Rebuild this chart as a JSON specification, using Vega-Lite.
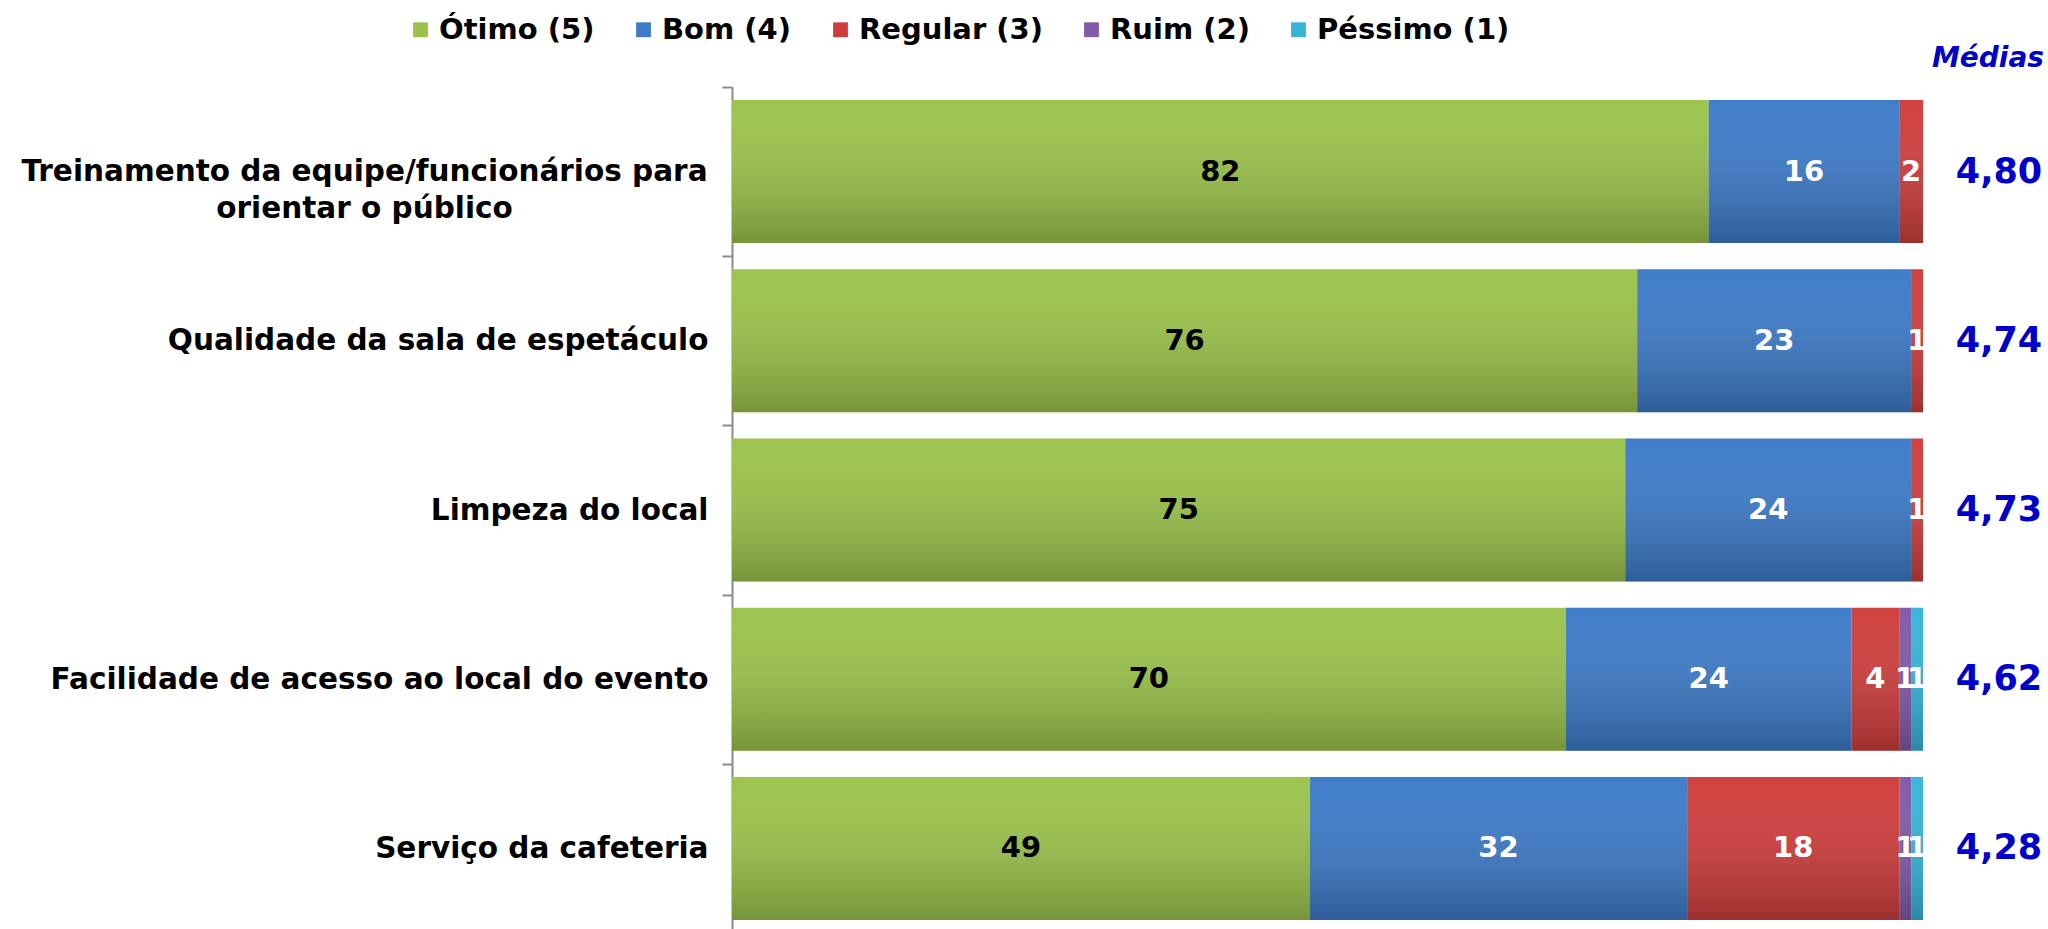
{
  "$schema": "https://vega.github.io/schema/vega-lite/v6.json",
  "autosize": {"type": "none"},
  "padding": {"left": 732, "top": 87, "right": 125, "bottom": 0},
  "width": 1191,
  "height": 846,
  "background": "white",
  "title": {
    "text": "Médias",
    "anchor": "end",
    "frame": "group",
    "dx": 121,
    "dy": 76,
    "offset": 18,
    "font": "DejaVu Sans",
    "fontSize": 28,
    "fontWeight": "bold",
    "fontStyle": "italic",
    "color": "#0000CC"
  },
  "datasets": {
    "resp": [
      {"cat": "Treinamento da equipe/funcionários para|orientar o público", "resp": "Ótimo (5)", "ord": 1, "v": 82},
      {"cat": "Treinamento da equipe/funcionários para|orientar o público", "resp": "Bom (4)", "ord": 2, "v": 16},
      {"cat": "Treinamento da equipe/funcionários para|orientar o público", "resp": "Regular (3)", "ord": 3, "v": 2},
      {"cat": "Qualidade da sala de espetáculo", "resp": "Ótimo (5)", "ord": 1, "v": 76},
      {"cat": "Qualidade da sala de espetáculo", "resp": "Bom (4)", "ord": 2, "v": 23},
      {"cat": "Qualidade da sala de espetáculo", "resp": "Regular (3)", "ord": 3, "v": 1},
      {"cat": "Limpeza do local", "resp": "Ótimo (5)", "ord": 1, "v": 75},
      {"cat": "Limpeza do local", "resp": "Bom (4)", "ord": 2, "v": 24},
      {"cat": "Limpeza do local", "resp": "Regular (3)", "ord": 3, "v": 1},
      {"cat": "Facilidade de acesso ao local do evento", "resp": "Ótimo (5)", "ord": 1, "v": 70},
      {"cat": "Facilidade de acesso ao local do evento", "resp": "Bom (4)", "ord": 2, "v": 24},
      {"cat": "Facilidade de acesso ao local do evento", "resp": "Regular (3)", "ord": 3, "v": 4},
      {"cat": "Facilidade de acesso ao local do evento", "resp": "Ruim (2)", "ord": 4, "v": 1},
      {"cat": "Facilidade de acesso ao local do evento", "resp": "Péssimo (1)", "ord": 5, "v": 1},
      {"cat": "Serviço da cafeteria", "resp": "Ótimo (5)", "ord": 1, "v": 49},
      {"cat": "Serviço da cafeteria", "resp": "Bom (4)", "ord": 2, "v": 32},
      {"cat": "Serviço da cafeteria", "resp": "Regular (3)", "ord": 3, "v": 18},
      {"cat": "Serviço da cafeteria", "resp": "Ruim (2)", "ord": 4, "v": 1},
      {"cat": "Serviço da cafeteria", "resp": "Péssimo (1)", "ord": 5, "v": 1}
    ],
    "medias": [
      {"cat": "Treinamento da equipe/funcionários para|orientar o público", "media": "4,80"},
      {"cat": "Qualidade da sala de espetáculo", "media": "4,74"},
      {"cat": "Limpeza do local", "media": "4,73"},
      {"cat": "Facilidade de acesso ao local do evento", "media": "4,62"},
      {"cat": "Serviço da cafeteria", "media": "4,28"}
    ]
  },
  "config": {
    "view": {"stroke": null},
    "font": "DejaVu Sans"
  },
  "layer": [
    {
      "data": {"name": "resp"},
      "transform": [
        {"stack": "v", "groupby": ["cat"], "sort": [{"field": "ord"}], "as": ["x0", "x1"], "offset": "normalize"},
        {"calculate": "(datum.x0 + datum.x1) / 2", "as": "xm"}
      ],
      "layer": [
        {
          "mark": {"type": "bar", "height": {"band": 0.845}},
          "encoding": {
            "x": {"field": "x0", "type": "quantitative", "scale": {"domain": [0, 1], "nice": false, "zero": true}, "axis": null},
            "x2": {"field": "x1"},
            "y": {
              "field": "cat", "type": "nominal", "sort": null, "title": null,
              "scale": {"paddingInner": 0, "paddingOuter": 0},
              "axis": {
                "labelExpr": "isString(datum.value) ? split(datum.value, '|') : ''",
                "labelFont": "DejaVu Sans",
                "labelFontSize": 29.5,
                "labelFontWeight": "bold",
                "labelColor": "#000000",
                "labelLineHeight": 37,
                "labelAlign": {"condition": {"test": "isString(datum.value) && indexof(datum.value, '|') >= 0", "value": "center"}, "value": "right"},
                "labelPadding": {"condition": {"test": "isString(datum.value) && indexof(datum.value, '|') >= 0", "value": 358}, "value": 14},
                "labelLimit": 800,
                "tickBand": "extent",
                "tickSize": 10,
                "tickColor": "#8a8a8a",
                "tickWidth": 2,
                "domainColor": "#8a8a8a",
                "domainWidth": 2
              }
            },
            "color": {
              "field": "resp", "type": "nominal",
              "scale": {
                "domain": ["Ótimo (5)", "Bom (4)", "Regular (3)", "Ruim (2)", "Péssimo (1)"],
                "range": ["#9BC34B", "#3D7BC9", "#CF3E3C", "#7F5BA8", "#36B5D8"]
              },
              "legend": {
                "title": null,
                "orient": "none",
                "direction": "horizontal",
                "legendX": -326,
                "legendY": -72,
                "labelFont": "DejaVu Sans",
                "labelFontSize": 29,
                "labelFontWeight": "bold",
                "labelColor": "#000000",
                "labelLimit": 400,
                "symbolType": "square",
                "symbolSize": 220,
                "symbolStrokeWidth": 0,
                "labelOffset": 4,
                "columnPadding": 34
              }
            }
          }
        },
        {
          "mark": {
            "type": "bar",
            "height": {"band": 0.845},
            "fill": {
              "gradient": "linear", "x1": 0, "y1": 0, "x2": 0, "y2": 1,
              "stops": [
                {"offset": 0, "color": "rgba(255,255,255,0.02)"},
                {"offset": 1, "color": "rgba(0,0,0,0.24)"}
              ]
            }
          },
          "encoding": {
            "x": {"field": "x0", "type": "quantitative"},
            "x2": {"field": "x1"},
            "y": {"field": "cat", "type": "nominal", "sort": null},
            "detail": {"field": "resp"}
          }
        },
        {
          "mark": {"type": "text", "font": "DejaVu Sans", "fontSize": 29, "fontWeight": "bold", "align": "center", "baseline": "middle"},
          "encoding": {
            "x": {"field": "xm", "type": "quantitative"},
            "y": {"field": "cat", "type": "nominal", "sort": null},
            "text": {"field": "v", "type": "quantitative", "format": ".0f"},
            "color": {"condition": {"test": "datum.resp === 'Ótimo (5)'", "value": "#000000"}, "value": "#FFFFFF"}
          }
        }
      ]
    },
    {
      "data": {"name": "medias"},
      "mark": {"type": "text", "font": "DejaVu Sans", "fontSize": 35, "fontWeight": "bold", "align": "center", "baseline": "middle", "dx": 76, "color": "#0000CC"},
      "encoding": {
        "x": {"datum": 1, "type": "quantitative"},
        "y": {"field": "cat", "type": "nominal", "sort": null},
        "text": {"field": "media"}
      }
    }
  ]
}
